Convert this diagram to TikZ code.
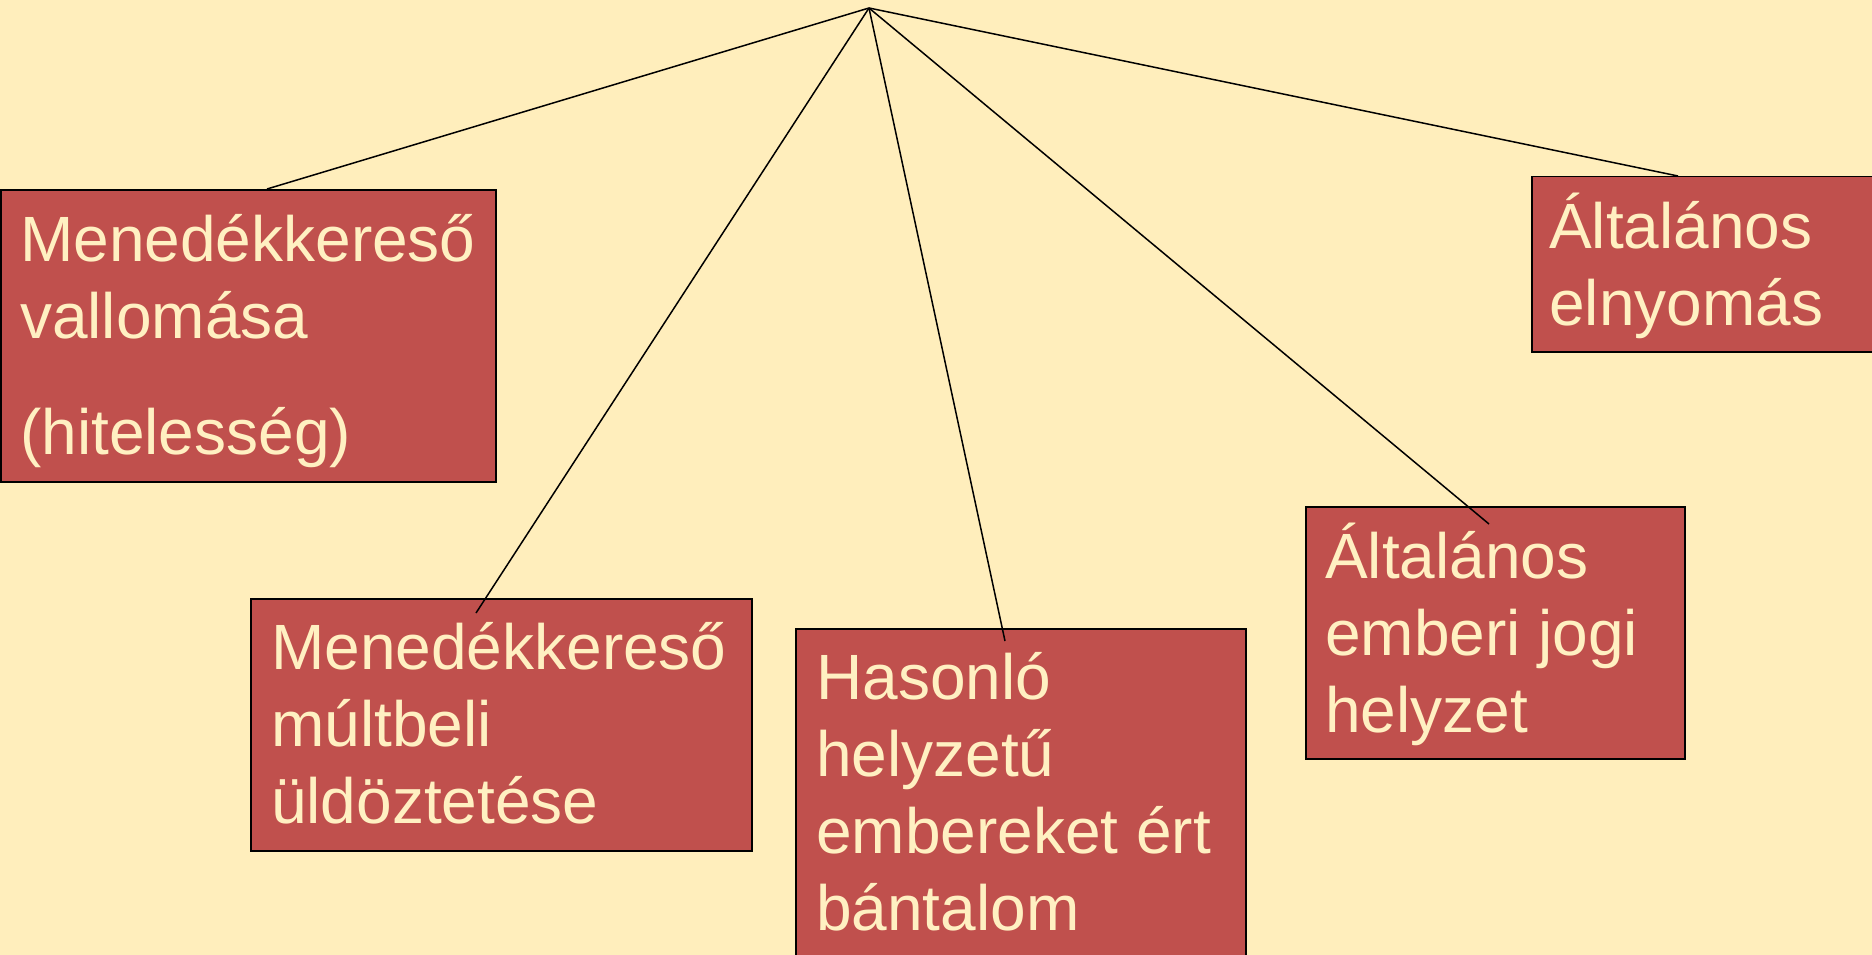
\documentclass[tikz,border=0pt]{standalone}
\usepackage{fontspec}
\setmainfont{Liberation Sans}
\definecolor{bg}{HTML}{FFEEBC}
\definecolor{boxred}{HTML}{C0504D}
\definecolor{cream}{HTML}{FFF0C2}
\begin{document}
\begin{tikzpicture}[x=1pt,y=-1pt,
  box/.style={draw=black, line width=1.5pt, fill=boxred, anchor=north west, inner sep=0pt, rectangle},
  txt/.style={anchor=base west, align=left, inner sep=0pt, text=cream, font=\fontsize{64}{77}\selectfont},
  conn/.style={draw=black, line width=1.5pt}]
\fill[bg] (0,0) rectangle (1872,955);
\useasboundingbox (0,0) rectangle (1872,955);
% boxes
\node[box, minimum width=495pt, minimum height=292pt] (A) at (0,189) {};
\node[box, minimum width=501pt, minimum height=252pt] (B) at (250,598) {};
\node[box, minimum width=450pt, minimum height=340pt] (C) at (795,628) {};
\node[box, minimum width=379pt, minimum height=252pt] (D) at (1305,506) {};
\node[box, minimum width=345pt, minimum height=175pt] (E) at (1531,176) {};
% connector ends
\coordinate (top) at (869,8);
\coordinate (eA) at (267,189);
\coordinate (eB) at (476,613);
\coordinate (eC) at (1005,641);
\coordinate (eD) at (1489,524);
\coordinate (eE) at (1678,176);
\draw[conn] (top) -- (eA);
\draw[conn] (top) -- (eB);
\draw[conn] (top) -- (eC);
\draw[conn] (top) -- (eD);
\draw[conn] (top) -- (eE);
% texts (anchored at the baseline of the last line)
\node[txt] (tA) at (20,454) {Menedékkereső\\vallomása\\[39pt](hitelesség)};
\node[txt] (tB) at (271,823) {Menedékkereső\\múltbeli\\üldöztetése};
\node[txt] (tC) at (816,930) {Hasonló\\helyzetű\\embereket ért\\bántalom};
\node[txt] (tD) at (1325,732) {Általános\\emberi jogi\\helyzet};
\node[txt] (tE) at (1549,325) {Általános\\elnyomás};
\end{tikzpicture}
\end{document}
